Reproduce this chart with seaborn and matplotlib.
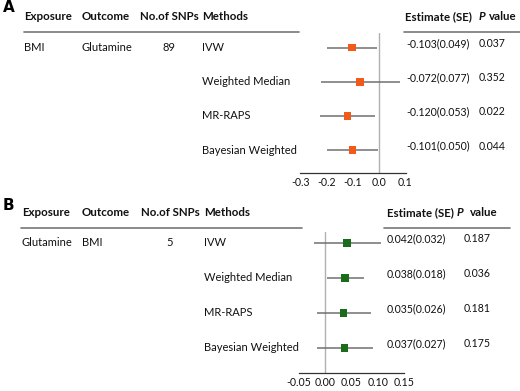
import matplotlib
matplotlib.use("Agg")
import matplotlib.pyplot as plt
import matplotlib.transforms as mtrans
import pandas as pd
import seaborn as sns

# data
methods = ["IVW", "Weighted Median", "MR-RAPS", "Bayesian Weighted"]

a_exposure, a_outcome, a_nsnp = "BMI", "Glutamine", "89"
a_est = [-0.103, -0.072, -0.120, -0.101]
a_se = [0.049, 0.077, 0.053, 0.050]
a_lo = [-0.199, -0.223, -0.224, -0.199]
a_hi = [-0.007, 0.079, -0.016, -0.003]
a_p = ["0.037", "0.352", "0.022", "0.044"]
a_ticks = [-0.3, -0.2, -0.1, 0.0, 0.1]
a_ticklabels = ["-0.3", "-0.2", "-0.1", "0.0", "0.1"]

b_exposure, b_outcome, b_nsnp = "Glutamine", "BMI", "5"
b_est = [0.042, 0.038, 0.035, 0.037]
b_se = [0.032, 0.018, 0.026, 0.027]
b_lo = [-0.021, 0.003, -0.016, -0.016]
b_hi = [0.105, 0.073, 0.086, 0.090]
b_p = ["0.187", "0.036", "0.181", "0.175"]
b_ticks = [-0.05, 0.0, 0.05, 0.10, 0.15]
b_ticklabels = ["-0.05", "0.00", "0.05", "0.10", "0.15"]

sns.set_style("white")
plt.rcParams["font.family"] = ["Lato", "DejaVu Sans"]

W, H = 520, 391
fig = plt.figure(figsize=(W / 100, H / 100), dpi=100)
bg = fig.add_axes([0, 0, 1, 1])
bg.set_xlim(0, W)
bg.set_ylim(H, 0)
bg.axis("off")

FS_HEAD = 8.3
FS = 8.0
FS_NUM = 7.6
TXT = "#111111"


def panel(letter, letter_y, head_y, cols, line_left, line_right,
          box, ylim, est, se, lo, hi, pvals, ticks, ticklabels, xlim,
          exposure, outcome, nsnp, color):
    # box = (x0, x1, y_top, y_bottom) in pixels
    x0, x1, yt, yb = box
    ax = fig.add_axes([x0 / W, 1 - yb / H, (x1 - x0) / W, (yb - yt) / H])
    df = pd.DataFrame({"method": methods, "est": est, "lo": lo, "hi": hi})
    ax.hlines(range(len(methods)), df["lo"], df["hi"], color="#707070", lw=1.1, zorder=2)
    sns.scatterplot(data=df, x="est", y="method", marker="s", s=30, color=color,
                    edgecolor="none", ax=ax, zorder=3)
    ax.axvline(0, color="#b0b0b0", lw=1, zorder=1)
    ax.set_xlim(*xlim)
    ax.set_ylim(*ylim)
    ax.set_xticks(ticks)
    ax.set_xticklabels(ticklabels, fontsize=7.6, color=TXT)
    ax.set_yticks([])
    ax.set_xlabel("")
    ax.set_ylabel("")
    for s in ["top", "left", "right"]:
        ax.spines[s].set_visible(False)
    ax.spines["bottom"].set_color("#333333")
    ax.spines["bottom"].set_linewidth(0.9)
    ax.tick_params(axis="x", direction="in", length=4, width=0.9, color="#333333", pad=3)
    ax.patch.set_alpha(0)

    # letter + headers
    bg.text(3, letter_y, letter, fontsize=11, fontweight="bold", family="DejaVu Sans",
            va="center", ha="left", color="black")
    names = ["Exposure", "Outcome", "No.of SNPs", "Methods", "Estimate (SE)"]
    for name, x in zip(names, cols[:5]):
        bg.text(x, head_y, name, fontsize=FS_HEAD, fontweight="bold", va="center", color=TXT)
    bg.text(cols[5], head_y, "P", fontsize=FS_HEAD, fontweight="bold", style="italic",
            va="center", color=TXT)
    bg.text(cols[6], head_y, "value", fontsize=FS_HEAD, fontweight="bold", va="center", color=TXT)
    ly = head_y + 15
    bg.plot(line_left, [ly, ly], color="#777777", lw=1.2)
    bg.plot(line_right, [ly, ly], color="#777777", lw=1.2)

    # row text: x in figure pixels, y in row positions
    tr = mtrans.blended_transform_factory(bg.transData, ax.transData)
    bg.text(cols[0], 0, exposure, transform=tr, fontsize=FS, va="center", color=TXT)
    bg.text(cols[1], 0, outcome, transform=tr, fontsize=FS, va="center", color=TXT)
    bg.text(cols[7], 0, nsnp, transform=tr, fontsize=FS, va="center", ha="center", color=TXT)
    for i, m in enumerate(methods):
        bg.text(cols[3], i, m, transform=tr, fontsize=FS, va="center", color=TXT)
        bg.text(cols[8], i - 0.12, f"{est[i]:.3f}({se[i]:.3f})", transform=tr,
                fontsize=FS_NUM, va="center", color=TXT)
        bg.text(cols[9], i - 0.12, pvals[i], transform=tr, fontsize=FS_NUM, va="center", color=TXT)
    return ax


panel("A", 8, 17, [24, 82, 140, 202, 405, 479, 489, 169, 406, 479],
      [24, 299], [404, 520], (300.3, 405.5, 33, 173),
      (3.67, -0.43), a_est, a_se, a_lo, a_hi, a_p, a_ticks, a_ticklabels,
      (-0.3, 0.1), a_exposure, a_outcome, a_nsnp, "#f05a1a")

panel("B", 205, 213, [22, 82, 141, 204, 387, 457, 470, 170, 387, 464],
      [21, 302], [384, 510], (298.5, 404.5, 232, 372.7),
      (3.71, -0.31), b_est, b_se, b_lo, b_hi, b_p, b_ticks, b_ticklabels,
      (-0.05, 0.15), b_exposure, b_outcome, b_nsnp, "#1a6b1a")

fig.savefig("out.png", dpi=100)
